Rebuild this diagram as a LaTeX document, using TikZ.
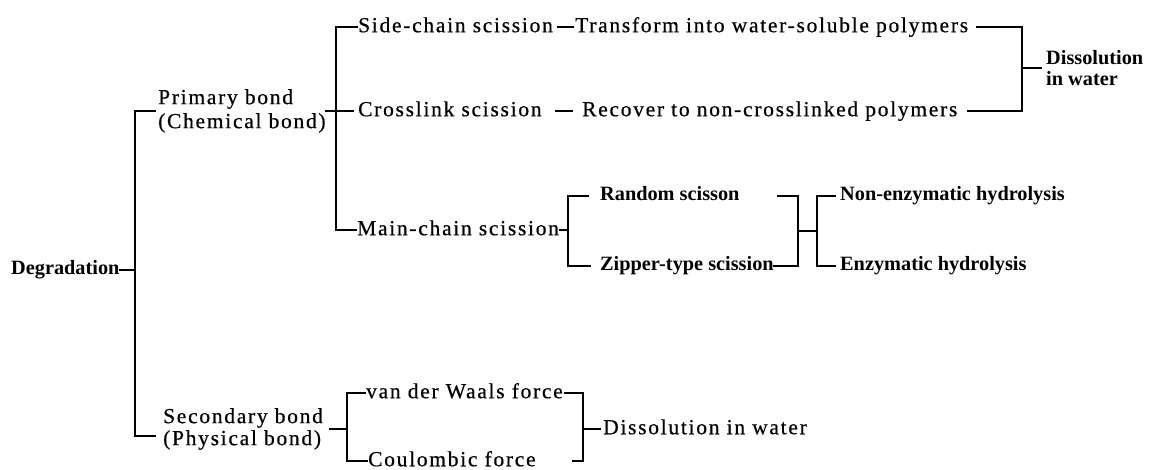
\documentclass[tikz,border=0pt]{standalone}
\usepackage{fontspec}
\setmainfont{Liberation Serif}
\newfontfamily\regsp{Liberation Serif}[LetterSpace=8,FakeBold=0.5]
\usetikzlibrary{calc}
\tikzset{
  rtxt/.style={font=\regsp\fontsize{21.5}{25}\selectfont, inner sep=0pt, anchor=west, text height=15pt, text depth=4.5pt},
  btxt/.style={font=\bfseries\fontsize{20.3}{24}\selectfont, inner sep=0pt, anchor=west, text height=14pt, text depth=4pt},
  rmulti/.style={font=\regsp\fontsize{21.5}{24}\selectfont, inner sep=0pt, anchor=west, align=left},
  bmulti/.style={font=\bfseries\fontsize{20.3}{21}\selectfont, inner sep=0pt, anchor=west, align=left},
  conn/.style={line width=1.3pt, line cap=rect},
}
\begin{document}
\begin{tikzpicture}[x=1pt,y=-1pt]
\useasboundingbox (0,0) rectangle (1149,470);
% nodes
\node[btxt] (deg) at (11,270) {Degradation};
\node[rmulti] (prim) at (158,111) {Primary bond\\(Chemical bond)};
\node[rmulti, font=\regsp\fontsize{21.5}{22}\selectfont] (sec) at (163,429) {Secondary bond\\(Physical bond)};
\node[rtxt] (side) at (358,27) {Side-chain scission};
\node[rtxt] (trans) at (575,27) {Transform into water-soluble polymers};
\node[rtxt] (cross) at (358,111) {Crosslink scission};
\node[rtxt] (recov) at (582,111) {Recover to non-crosslinked polymers};
\node[bmulti] (diss1) at (1046,68) {Dissolution\\in water};
\node[rtxt] (main) at (357,230) {Main-chain scission};
\node[btxt] (rand) at (600,196) {Random scisson};
\node[btxt] (zip) at (600,266) {Zipper-type scission};
\node[btxt] (nonenz) at (840,196) {Non-enzymatic hydrolysis};
\node[btxt] (enz) at (840,266) {Enzymatic hydrolysis};
\node[rtxt] (vdw) at (366,393) {van der Waals force};
\node[rtxt] (coul) at (368,461) {Coulombic force};
\node[rtxt] (diss2) at (603,429) {Dissolution in water};
% bracket corner coordinates
\coordinate (c1) at (135,270);
\coordinate (c1t) at (135,111);
\coordinate (c1b) at (135,436);
\coordinate (c2t) at (336,27);
\coordinate (c2b) at (336,230);
\coordinate (c3t) at (1022,27);
\coordinate (c3b) at (1022,111);
\coordinate (c3m) at (1022,68);
\coordinate (c4m) at (568,230);
\coordinate (c4t) at (568,196);
\coordinate (c4b) at (568,266);
\coordinate (c5s) at (778,196);
\coordinate (c5t) at (798,196);
\coordinate (c5b) at (798,266);
\coordinate (c5m) at (798,231);
\coordinate (c6m) at (817,231);
\coordinate (c6t) at (817,196);
\coordinate (c6b) at (817,266);
\coordinate (c7m) at (347,429);
\coordinate (c7t) at (347,393);
\coordinate (c7b) at (347,461);
\coordinate (c8s) at (573,461);
\coordinate (c8t) at (583,393);
\coordinate (c8b) at (583,461);
\coordinate (c8m) at (583,429);
% connectors
\draw[conn] (deg.east) -- (c1);
\draw[conn] ([xshift=-3pt]prim.west) -- (c1t) -- (c1b) -- ([xshift=-8pt,yshift=-7pt]sec.west);
\draw[conn] (prim.east) -- ([xshift=-5pt]cross.west);
\draw[conn] ([xshift=-1pt]side.west) -- (c2t) -- (c2b) -- ([xshift=-1pt]main.west);
\draw[conn] ([xshift=5pt]side.east) -- ([xshift=-2pt]trans.west);
\draw[conn] ([xshift=14pt]cross.east) -- ([xshift=-10pt]recov.west);
\draw[conn] ([xshift=8pt]trans.east) -- (c3t) -- (c3b) -- ([xshift=10pt]recov.east);
\draw[conn] (c3m) -- ([xshift=-5pt]diss1.west);
\draw[conn] (main.east) -- (c4m);
\draw[conn] ([xshift=-12pt]rand.west) -- (c4t) -- (c4b) -- ([xshift=-10pt]zip.west);
\draw[conn] (c5s) -- (c5t) -- (c5b) -- (zip.east);
\draw[conn] (c5m) -- (c6m);
\draw[conn] ([xshift=-5pt]nonenz.west) -- (c6t) -- (c6b) -- ([xshift=-5pt]enz.west);
\draw[conn] ([xshift=6pt]sec.east) -- (c7m);
\draw[conn] ([xshift=-1pt]vdw.west) -- (c7t) -- (c7b) -- ([xshift=-1pt]coul.west);
\draw[conn] ([xshift=2pt]vdw.east) -- (c8t) -- (c8b) -- (c8s);
\draw[conn] (c8m) -- ([xshift=-3pt]diss2.west);
\end{tikzpicture}
\end{document}
